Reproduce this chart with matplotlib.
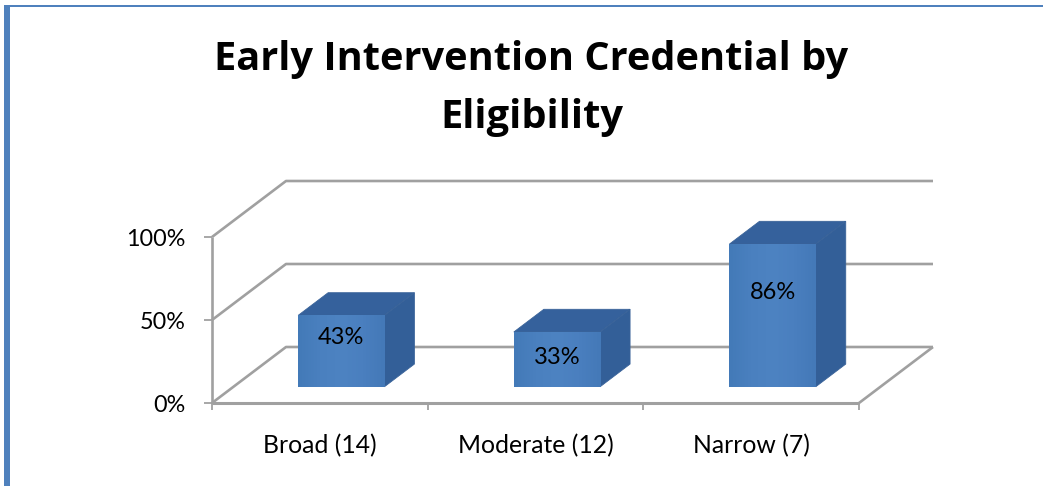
import numpy as np
import matplotlib
matplotlib.use("Agg")
import matplotlib.pyplot as plt
from matplotlib.patches import Polygon, Rectangle
from matplotlib.colors import LinearSegmentedColormap

title_lines = ["Early Intervention Credential by", "Eligibility"]
categories = ["Broad (14)", "Moderate (12)", "Narrow (7)"]
values = [43, 33, 86]
value_labels = ["43%", "33%", "86%"]
y_ticks = [0, 50, 100]
y_tick_labels = ["0%", "50%", "100%"]

W, H = 1043, 486
FONT = "Lato"
TITLE_FONT = "Open Sans"
GRID = "#a0a0a0"
fig = plt.figure(figsize=(W / 100, H / 100), dpi=100, facecolor="white")

# blue frame (top and left only)
fig.add_artist(Rectangle((4 / W, 1 - 7 / H), 1 - 4 / W, 2.4 / H, transform=fig.transFigure, color="#4f81bd", lw=0))
fig.add_artist(Rectangle((4.3 / W, 0), 5.7 / W, 1 - 5 / H, transform=fig.transFigure, color="#4f81bd", lw=0))

# axes = front plane of the 3-D box
L, R, B, T = 212, 859, 403, 237
ax = fig.add_axes([L / W, 1 - B / H, (R - L) / W, (B - T) / H])
ax.set_xlim(0, len(categories))
ax.set_ylim(0, 100)
ax.axis("off")

DX = 74 / ((R - L) / len(categories))     # full box depth in x units
DY = 56 / ((B - T) / 100)                 # full box depth in y units


def P(x, y, d=0.0):
    return (x + d * DX, y + d * DY)


def line(pts, lw=1.9, color=GRID, z=1):
    xs, ys = zip(*pts)
    ax.plot(xs, ys, color=color, lw=lw, clip_on=False, zorder=z, solid_capstyle="butt")


n = len(categories)
for t in y_ticks:
    line([P(0, t), P(0, t, 1), P(n, t, 1)])
line([P(0, 0), P(0, 100)])
line([P(0, 0), P(n, 0)], lw=2.2)
line([P(n, 0), P(n, 0, 1)])

px_x = (R - L) / n
px_y = (B - T) / 100
for t, lab in zip(y_ticks, y_tick_labels):
    line([(-8 / px_x, t), (0, t)], lw=1.3)
    ax.text(-26.5 / px_x, t - 8.7 / px_y, lab, ha="right", va="baseline", fontsize=16.8, family=FONT, color="black")
for i in range(n + 1):
    line([(i, 0), (i, -7 / px_y)], lw=1.3)
for i, lab in enumerate(categories):
    ax.text(i + 0.5, -50 / px_y, lab, ha="center", va="baseline", fontsize=17.8, family=FONT, color="black")

# bars
D0, D1 = 0.29, 0.695
BW = 0.40
cm = LinearSegmentedColormap.from_list("f", ["#437ab8", "#4a80bf", "#4d83c2", "#4a7fbf", "#4479b8"])
label_px = [43, 23, 88]
for i, (v, lab) in enumerate(zip(values, value_labels)):
    x0 = i + 0.5 - BW / 2
    x1 = i + 0.5 + BW / 2
    fl, fr = P(x0, 0, D0), P(x1, 0, D0)
    tl, tr = P(x0, v, D0), P(x1, v, D0)
    bl2, br2 = P(x0, v, D1), P(x1, v, D1)
    br3 = P(x1, 0, D1)
    ax.add_patch(Polygon([tl, tr, br2, bl2], closed=True, fc="#35619c", ec="#3a6399", lw=0.6, zorder=3, clip_on=False))
    ax.add_patch(Polygon([fr, br3, br2, tr], closed=True, fc="#335f98", ec="#3a6399", lw=0.6, zorder=3, clip_on=False))
    ax.imshow(np.linspace(0, 1, 64)[None, :], extent=(fl[0], fr[0], fl[1], tl[1]), cmap=cm, aspect="auto", zorder=4, clip_on=False)
    ax.set_xlim(0, n)
    ax.set_ylim(0, 100)
    ax.text(i + 0.5 + D0 * DX, fl[1] + label_px[i] / px_y, lab, ha="center", va="baseline",
            fontsize=17, family=FONT, color="black", zorder=6)

fig.text(531 / W, 1 - 70 / H, title_lines[0], ha="center", va="baseline", fontsize=28.6, family=TITLE_FONT, fontweight="bold")
fig.text(532 / W, 1 - 127.5 / H, title_lines[1], ha="center", va="baseline", fontsize=28.6, family=TITLE_FONT, fontweight="bold")

fig.savefig("out.png", dpi=100)
